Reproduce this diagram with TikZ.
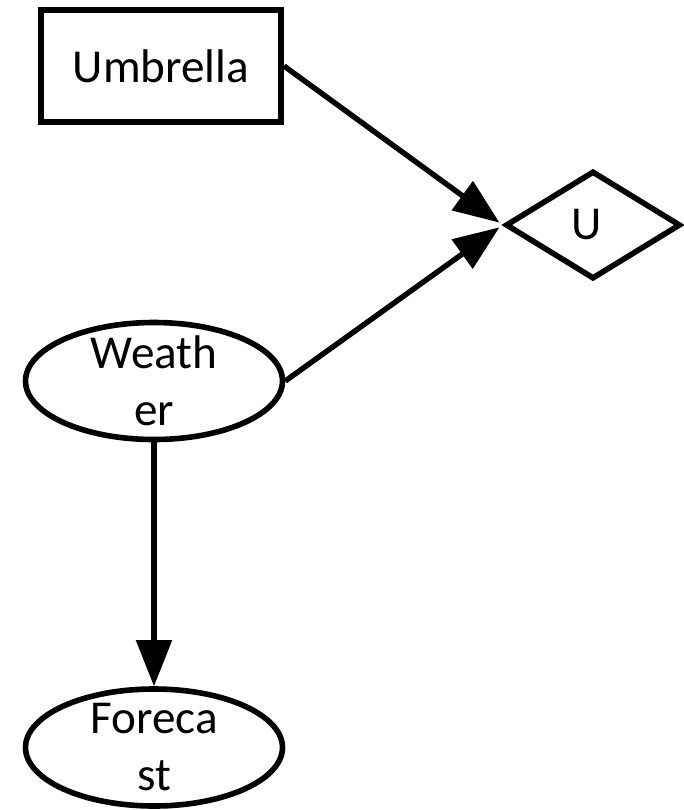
\documentclass[tikz,border=0pt]{standalone}
\usepackage{fontspec}
\setmainfont{Carlito}
\usetikzlibrary{shapes.geometric,arrows.meta}
\tikzset{
  shapeline/.style={draw=black, line width=2.8pt, inner sep=0pt, fill=white},
  boxnode/.style={shapeline, rectangle, line width=3pt, minimum width=120pt, minimum height=56pt},
  ellnode/.style={shapeline, ellipse, minimum width=128.5pt, minimum height=58.5pt},
  dianode/.style={shapeline, diamond, minimum width=87.5pt, minimum height=54pt},
  txt/.style={inner sep=0pt, align=center, font=\fontsize{23.6}{28.5}\selectfont},
  conn/.style={draw=black, line width=2.7pt, -{Triangle[length=23pt,width=17.5pt]}}
}
\begin{document}
\begin{tikzpicture}[x=0.5pt, y=-0.5pt]
\useasboundingbox (0,0) rectangle (684,810);
\node[boxnode] (um) at (161,66) {};
\node[dianode] (u) at (593,225) {};
\node[ellnode] (w) at (154,381) {};
\node[ellnode] (f) at (154,747.5) {};
\node[txt] (umt) at (um.center) {Umbrella};
\node[txt, xshift=-3pt] (ut) at (u.center) {U};
\node[txt] (wt) at (w.center) {Weath\\er};
\node[txt] (ft) at (f.center) {Foreca\\st};
\draw[conn, shorten >=2pt] (um.east) -- (u.west);
\draw[conn, shorten >=2pt] (w.east) -- (u.west);
\draw[conn] (w.south) -- (f.north);
\end{tikzpicture}
\end{document}
